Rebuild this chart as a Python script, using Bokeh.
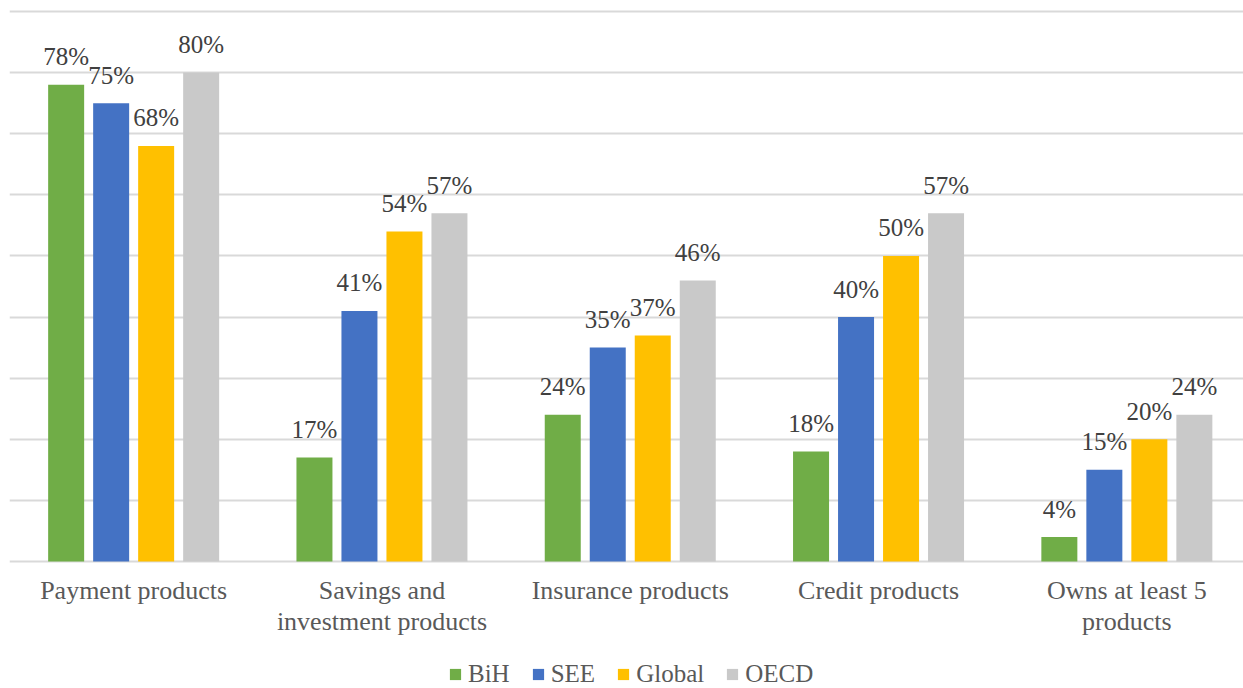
from bokeh.plotting import figure
from bokeh.models import Range1d, FixedTicker, Legend, LegendItem
from bokeh.embed import file_html
from bokeh.resources import INLINE
from bokeh.core.properties import value

# Share of adults holding each product type, by region (%)
categories = [
    "Payment products",
    "Savings and\ninvestment products",
    "Insurance products",
    "Credit products",
    "Owns at least 5\nproducts",
]
series = ["BiH", "SEE", "Global", "OECD"]
bih = [78, 17, 24, 18, 4]
see = [75, 41, 35, 40, 15]
global_ = [68, 54, 37, 50, 20]
oecd = [80, 57, 46, 57, 24]
colors = ["#70AD47", "#4472C4", "#FFC000", "#C9C9C9"]
y_ticks = [0, 10, 20, 30, 40, 50, 60, 70, 80, 90]

W, H = 1243, 688
LEFT = 9                 # px before the first category slot
GROUP_PX = 248.3         # px per category slot
PX_PER_UNIT = 61.1 / 10  # px per percentage point
TOP_PAD = 11             # px above the 90% gridline
BOTTOM_PAD = 127         # px below the 0% baseline (axis labels + legend)

FONT_NAME = "Liberation Serif"
FONT = value(FONT_NAME)

x_range = Range1d(0, (W - LEFT) / GROUP_PX)
y_range = Range1d(-BOTTOM_PAD / PX_PER_UNIT, 90 + TOP_PAD / PX_PER_UNIT)

p = figure(width=W, height=H, x_range=x_range, y_range=y_range,
           output_backend="svg", toolbar_location=None,
           min_border_left=LEFT, min_border_right=0,
           min_border_top=0, min_border_bottom=0)
p.outline_line_color = None
p.background_fill_color = "white"
p.border_fill_color = "white"
p.axis.visible = False
p.xgrid.visible = False
p.ygrid.ticker = FixedTicker(ticks=y_ticks)
p.ygrid.grid_line_color = "#D9D9D9"
p.ygrid.grid_line_width = 2

step = 45 / GROUP_PX
bar_w = 36 / GROUP_PX
centers = [i + 0.5 for i in range(len(categories))]

renderers = []
for k, (vals, col) in enumerate(zip([bih, see, global_, oecd], colors)):
    xs = [c + (k - 1.5) * step for c in centers]
    r = p.vbar(x=xs, top=vals, bottom=0, width=bar_w,
               fill_color=col, line_color=None)
    renderers.append(r)
    p.text(x=xs, y=vals, text=[f"{v}%" for v in vals],
           text_font=FONT, text_font_size="25px", text_font_style="normal",
           text_color="#404040", text_align="center", text_baseline="middle",
           y_offset=-28)

# category labels, up to two lines each
lines1 = [c.split("\n")[0] for c in categories]
lines2 = [c.split("\n")[1] if "\n" in c else "" for c in categories]
zero = [0] * len(categories)
p.text(x=centers, y=zero, text=lines1, text_font=FONT, text_font_size="26px",
       text_color="#595959", text_align="center", text_baseline="middle",
       y_offset=29)
p.text(x=centers, y=zero, text=lines2, text_font=FONT, text_font_size="26px",
       text_color="#595959", text_align="center", text_baseline="middle",
       y_offset=60)

legend = Legend(
    items=[LegendItem(label=s, renderers=[r]) for s, r in zip(series, renderers)],
    orientation="horizontal",
    location=(448 - LEFT, 0),
    label_text_font=FONT_NAME,
    label_text_font_size="25px",
    label_text_color="#595959",
    glyph_width=14, glyph_height=14,
    label_standoff=6, spacing=21,
    padding=0, margin=0,
    border_line_color=None, background_fill_alpha=0,
)
p.add_layout(legend)

open("out.html", "w").write(file_html(p, INLINE))
